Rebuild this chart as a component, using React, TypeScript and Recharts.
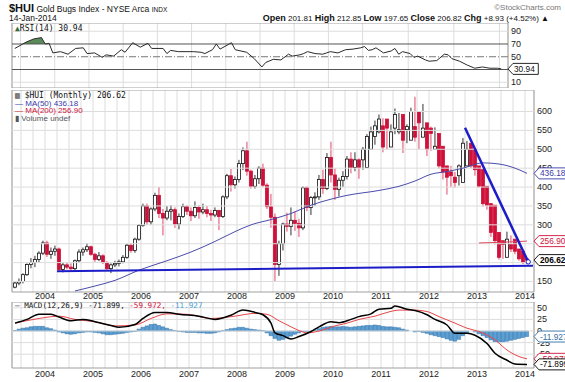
import React from "react";
import {
  Area,
  Bar,
  CartesianGrid,
  ComposedChart,
  Line,
  ReferenceArea,
  ReferenceDot,
  ReferenceLine,
  XAxis,
  YAxis,
} from "recharts";

const FONT = '"Liberation Sans", Arial, Helvetica, sans-serif';
const MONO = '"DejaVu Sans Mono", "Liberation Mono", monospace';

// monthly candles, index 0 = May 2003 ... 128 = Jan 2014
const opens = [
  135, 146, 150, 168, 195, 200, 208, 225, 252, 222, 230, 236, 182, 194, 188, 184, 205, 228, 234, 242,
  222, 208, 218, 200, 184, 194, 198, 202, 214, 246, 232, 262, 298, 350, 308, 342, 378, 330, 318, 336,
  340, 302, 322, 348, 336, 324, 346, 334, 340, 330, 326, 338, 322, 374, 430, 406, 420, 462, 496, 442,
  402, 422, 450, 405, 348, 320, 195, 250, 302, 296, 312, 304, 292, 398, 346, 372, 374, 420, 396, 478,
  432, 394, 418, 428, 474, 452, 472, 472, 452, 500, 534, 546, 562, 580, 506, 556, 546, 592, 552, 524,
  560, 600, 532, 570, 556, 500, 542, 508, 456, 440, 426, 430, 412, 456, 516, 500, 456, 446, 402, 356,
  352, 280, 258, 214, 248, 262, 236, 230, 210, 201.81,
];
const highs = [
  150, 158, 172, 198, 212, 218, 230, 258, 258, 240, 245, 240, 200, 200, 198, 208, 235, 240, 252, 245,
  226, 228, 222, 204, 198, 205, 208, 220, 250, 252, 266, 302, 356, 356, 346, 385, 400, 342, 350, 352,
  346, 330, 356, 352, 346, 362, 352, 356, 350, 340, 346, 340, 378, 435, 448, 428, 472, 505, 520, 446,
  432, 455, 462, 410, 382, 330, 258, 306, 332, 346, 336, 316, 402, 402, 376, 386, 432, 446, 490, 520,
  450, 425, 442, 482, 492, 492, 476, 506, 540, 560, 576, 592, 582, 560, 566, 608, 596, 560, 566, 610,
  639, 590, 620, 566, 560, 558, 512, 462, 450, 456, 440, 460, 530, 522, 504, 462, 452, 406, 368, 358,
  290, 262, 258, 282, 272, 250, 234, 214, 212.85,
];
const lows = [
  132, 140, 145, 165, 185, 188, 200, 220, 215, 210, 218, 178, 174, 182, 180, 180, 200, 218, 228, 218,
  202, 204, 196, 178, 172, 188, 190, 198, 210, 226, 226, 258, 295, 300, 300, 336, 318, 272, 312, 312,
  292, 288, 318, 326, 310, 318, 316, 328, 320, 310, 320, 286, 318, 368, 388, 396, 412, 445, 430, 396,
  396, 408, 400, 342, 292, 150, 165, 232, 282, 272, 284, 268, 286, 336, 326, 350, 366, 382, 392, 412,
  366, 375, 400, 420, 436, 442, 422, 446, 496, 506, 512, 542, 492, 500, 520, 540, 540, 490, 516, 540,
  520, 500, 540, 482, 496, 500, 448, 420, 380, 400, 398, 404, 452, 490, 450, 430, 398, 348, 340, 268,
  248, 208, 210, 240, 228, 222, 205, 196, 197.65,
];
const closes = [
  146, 150, 168, 195, 200, 208, 225, 252, 222, 230, 236, 182, 194, 188, 184, 205, 228, 234, 242, 222,
  208, 218, 200, 184, 194, 198, 202, 214, 246, 232, 262, 298, 350, 308, 342, 378, 330, 318, 336, 340,
  302, 322, 348, 336, 324, 346, 334, 340, 330, 326, 338, 322, 374, 430, 406, 420, 462, 496, 442, 402,
  422, 450, 405, 348, 320, 195, 250, 302, 296, 312, 304, 292, 398, 346, 372, 374, 420, 396, 478, 432,
  394, 418, 428, 474, 452, 472, 452, 500, 534, 546, 562, 580, 506, 556, 546, 592, 552, 524, 560, 600,
  532, 570, 556, 500, 542, 508, 456, 440, 426, 430, 412, 456, 516, 500, 456, 446, 402, 356, 352, 280,
  258, 214, 248, 262, 236, 230, 210, 200, 206.62,
];

// [month index, value]
const ma50Pts = [
  [15, 125], [20, 138], [25, 153], [31, 180], [38, 205], [44, 228], [50, 256], [55, 282], [59, 300],
  [64, 314], [69, 330], [74, 352], [79, 368], [83, 378], [91, 391], [96, 402], [100, 416], [104, 434],
  [108, 441], [112, 450], [117, 464], [121, 461], [125, 450], [128, 436.18],
];
const ma200Pts = [[116, 252], [122, 254], [128, 256.9]];
const supportPts = [[10.5, 177], [129.5, 192]];
const downtrendPts = [[112.5, 557], [128.3, 202]];

const rsiPts = [
  [0, 63], [3, 73], [5, 78], [7, 80], [8, 70], [9, 71], [10, 56], [12, 58], [14, 54], [16, 63], [18, 64],
  [19, 55], [21, 56], [23, 49], [24, 53], [26, 51], [28, 61], [29, 57], [31, 72], [33, 65], [35, 71],
  [36, 63], [39, 63], [40, 55], [41, 60], [43, 58], [47, 58], [49, 57], [50, 55], [52, 61], [53, 70],
  [54, 62], [57, 72], [58, 61], [61, 57], [63, 47], [65, 34], [66, 41], [68, 46], [70, 45], [72, 54],
  [73, 51], [75, 53], [76, 55], [77, 58], [79, 55], [81, 54], [82, 56], [83, 58], [85, 56], [87, 61],
  [89, 62], [91, 64], [92, 66], [93, 60], [94, 61], [95, 64], [97, 56], [99, 59], [100, 63], [101, 54],
  [102, 58], [104, 55], [105, 49], [106, 51], [108, 45], [109, 43], [111, 44], [113, 54], [114, 53],
  [115, 47], [117, 43], [119, 37], [121, 32], [123, 34], [124, 33], [125, 32], [127, 32], [128, 30.94],
];
const rsiHotPts = [[2, 70], [3, 73], [5, 78], [7, 80], [8, 70]];

const macdPts = [
  [0, 17], [3, 25], [6, 36], [9, 36], [11, 30], [14, 22], [17, 25], [20, 20], [24, 12], [26, 8], [30, 14],
  [32, 27], [35, 40], [38, 40], [41, 36], [46, 32], [50, 25], [54, 34], [57, 45], [60, 40], [62, 35],
  [64, 17], [65, -4], [67, -10], [69, -17], [71, -12], [74, -1], [76, 9], [79, 20], [81, 18], [84, 25],
  [86, 31], [89, 37], [91, 47], [94, 49], [95, 54], [98, 47], [100, 44], [103, 35], [105, 25], [108, 13],
  [110, -5], [113, -5], [115, -9], [118, -27], [120, -48], [123, -63], [125, -71], [128, -71.899],
];
const signalPts = [
  [0, 17], [6, 27], [11, 32], [15, 25], [20, 20], [25, 11], [30, 13], [34, 27], [38, 37], [43, 36],
  [49, 27], [55, 32], [60, 38], [63, 36], [66, 22], [69, 9], [71, 1], [73, -4], [76, 0], [80, 11],
  [83, 17], [86, 25], [90, 32], [93, 40], [96, 45], [100, 45], [103, 42], [106, 31], [110, 17], [113, 6],
  [116, -1], [120, -19], [123, -41], [126, -55], [128, -59.972],
];
const histValues = [
  1, 4, 6, 7, 9, 10, 10, 10, 7, 5, 2,
  -2, -4, -6, -7, -6, -4, -3, -2, -2, -3, -4, -6, -8, -8, -7, -6, -5, -3, -2, -1,
  4, 8, 11, 14, 15, 12, 9, 6, 3, 1,
  -1, -2, -3, -3, -3, -4, -4, -5, -5, -4, -2,
  1, 3, 5, 6, 8, 8, 6, 4, 3, 2, 1,
  -4, -10, -16, -20, -18, -15, -11, -7, -4, -1, -1, 0,
  2, 5, 8, 9, 10, 9, 9, 10, 9, 8, 9, 10, 11, 12, 12, 13, 12, 10, 9, 9, 8, 7, 4, 2, 0,
  -2, -1, -3, -5, -8, -10, -12, -14, -17, -20, -22, -18, -10, -4, 0, -2,
  -6, -10, -14, -19, -23, -25, -24, -22, -20, -18, -16, -14, -11.927,
];

const years = ["2004", "2005", "2006", "2007", "2008", "2009", "2010", "2011", "2012", "2013", "2014"];
const priceTicks = [150, 200, 250, 300, 350, 400, 450, 500, 550, 600];
const priceHidden = [200, 250]; // labels sitting under the value tags
const rsiTicks = [10, 50, 70, 90];
const rsiGrid = [10, 90];
const macdTicks = [-50, -25, 0, 25, 50];

// value tags on the right axis
const priceTags = [
  { value: 436.18, text: "436.18", color: "#3a3aa8", bold: false },
  { value: 256.9, text: "256.90", color: "#d0103a", bold: false },
  { value: 206.62, text: "206.62", color: "#000000", bold: true },
];
const rsiTags = [{ value: 30.94, text: "30.94", color: "#111111", bold: false }];
const macdTags = [
  { value: -11.927, text: "-11.927", color: "#2f6ea6", bold: false },
  { value: -59.972, text: "-59.972", color: "#d0103a", bold: false },
  { value: -71.899, text: "-71.899", color: "#000000", bold: false },
];

const X_DOMAIN: [number, number] = [-0.75, 129.75];
const FIRST_JAN = 7.5; // boundary before the Jan 2004 candle
const quarterTicks = Array.from({ length: 43 }, (_, k) => 1.5 + 3 * k);

const PRICE_DOMAIN: [number, number] = [122.2, 656.9];
const RSI_DOMAIN: [number, number] = [1, 102.9];
const MACD_DOMAIN: [number, number] = [-79.7, 62.5];

const UP = "#111111";
const DOWN = "#d0103a";
const GRID = "#dddddd";
const BORDER = "#a0a0a0";

const toRows = (pts: number[][]) => pts.map(([i, v]) => ({ i, v }));

const candles = opens.map((o, i) => ({
  i,
  o,
  h: highs[i],
  l: lows[i],
  c: closes[i],
  range: [lows[i], highs[i]],
}));
const hist = histValues.map((v, i) => ({ i, v }));

function yearLabel(v: number) {
  const k = (v - FIRST_JAN) / 12;
  const r = Math.round(k);
  return Math.abs(k - r) < 1e-6 && r >= 0 && r < years.length ? years[r] : "";
}

function Candle(props: any) {
  const { x, y, width, height, payload } = props;
  if (x == null || !payload) return null;
  const top = Math.min(y, y + height);
  const span = Math.abs(height);
  const { o, h, l, c } = payload;
  const k = h > l ? span / (h - l) : 0;
  const yo = top + (h - o) * k;
  const yc = top + (h - c) * k;
  const cx = x + width / 2;
  const up = c >= o;
  const bTop = Math.min(yo, yc);
  const bH = Math.max(1, Math.abs(yc - yo));
  return (
    <g>
      <line x1={cx} x2={cx} y1={top} y2={top + span} stroke={up ? "#333" : "#e0486a"} strokeWidth={1} />
      <rect
        x={cx - 1.5}
        y={bTop}
        width={3}
        height={bH}
        fill={up ? "#ffffff" : DOWN}
        stroke={up ? UP : DOWN}
        strokeWidth={0.8}
      />
    </g>
  );
}

function textWidth(s: string) {
  let w = 0;
  for (const ch of s) w += ch === "." ? 2.3 : ch === "-" ? 2.8 : 4.5;
  return w;
}

// right-axis tick: plain number, or a pointed value tag
function AxisTick(props: any) {
  const { x, y, payload, tags, hidden } = props;
  const v = payload?.value;
  const tag = (tags || []).find((t: any) => t.value === v);
  if (tag) {
    const x0 = x - 3;
    const w = textWidth(tag.text) + 10;
    return (
      <g>
        <path
          d={`M${x0},${y} L${x0 + 5},${y - 5.5} L${x0 + w},${y - 5.5} L${x0 + w},${y + 5.5} L${x0 + 5},${y + 5.5} Z`}
          fill="#ffffff"
          stroke={tag.color}
          strokeWidth={0.9}
        />
        <text
          x={x0 + 6}
          y={y + 3}
          fontSize={8.3}
          fontFamily={FONT}
          fontWeight={tag.bold ? "bold" : "normal"}
          fill={tag.color}
        >
          {tag.text}
        </text>
      </g>
    );
  }
  if ((hidden || []).includes(v)) return <g />;
  return (
    <text x={x} y={y + 3} fontSize={9} fontFamily={FONT} fill="#222" textAnchor="start">
      {v}
    </text>
  );
}

function Frame({ domain }: { domain: [number, number] }) {
  return (
    <ReferenceArea
      x1={X_DOMAIN[0]}
      x2={X_DOMAIN[1]}
      y1={domain[0]}
      y2={domain[1]}
      fill="none"
      stroke={BORDER}
      strokeWidth={1}
      ifOverflow="visible"
    />
  );
}

function RightAxis({
  domain,
  ticks,
  tags,
  hidden = [],
}: {
  domain: [number, number];
  ticks: number[];
  tags: any[];
  hidden?: number[];
}) {
  return (
    <YAxis
      orientation="right"
      width={31}
      type="number"
      domain={domain}
      ticks={[...ticks, ...tags.map((t) => t.value)]}
      tick={<AxisTick tags={tags} hidden={hidden} />}
      axisLine={false}
      tickLine={false}
      tickSize={0}
      tickMargin={3}
      interval={0}
      allowDataOverflow
    />
  );
}

const tickStyle = { fontSize: 9, fill: "#222", fontFamily: FONT };

export default function App() {
  return (
    <div
      style={{
        position: "absolute",
        left: 0,
        top: 0,
        width: 565,
        height: 382,
        background: "#fff",
        overflow: "hidden",
        fontFamily: FONT,
        color: "#111",
      }}
    >
      {/* header */}
      <div style={{ position: "absolute", left: 9, top: 0, whiteSpace: "nowrap", lineHeight: "13px" }}>
        <span style={{ fontSize: 11, fontWeight: "bold" }}>$HUI</span>
        <span style={{ fontSize: 8.5 }}> Gold Bugs Index - NYSE Arca </span>
        <span style={{ fontSize: 6.5 }}>INDX</span>
      </div>
      <div style={{ position: "absolute", left: 9, top: 13, fontSize: 8.5, whiteSpace: "nowrap", lineHeight: "10px" }}>
        14-Jan-2014
      </div>
      <div style={{ position: "absolute", right: 4, top: 3, fontSize: 8, color: "#777", whiteSpace: "nowrap" }}>
        ©StockCharts.com
      </div>
      <div
        style={{ position: "absolute", right: 16, top: 13, fontSize: 8, whiteSpace: "nowrap", lineHeight: "10px" }}
      >
        <b style={{ fontSize: 9 }}>Open</b> 201.81 <b style={{ fontSize: 9 }}>High</b> 212.85{" "}
        <b style={{ fontSize: 9 }}>Low</b> 197.65 <b style={{ fontSize: 9 }}>Close</b> 206.82{" "}
        <b style={{ fontSize: 9 }}>Chg</b> +8.93 (+4.52%) ▲
      </div>

      {/* RSI panel */}
      <div style={{ position: "absolute", left: 0, top: 23 }}>
        <ComposedChart width={539} height={65} margin={{ top: 0, right: 0, bottom: 0, left: 12 }}>
          <CartesianGrid stroke={GRID} strokeWidth={1} horizontal={false} />
          <XAxis dataKey="i" type="number" domain={X_DOMAIN} ticks={quarterTicks} hide allowDataOverflow />
          {RightAxis({ domain: RSI_DOMAIN, ticks: rsiTicks, tags: rsiTags })}
          {rsiGrid.map((g) => (
            <ReferenceLine key={g} y={g} stroke={GRID} strokeWidth={1} />
          ))}
          <Area
            data={toRows(rsiHotPts)}
            dataKey="v"
            baseValue={70}
            type="linear"
            stroke="none"
            fill="#5a8a5a"
            fillOpacity={1}
            isAnimationActive={false}
          />
          <ReferenceLine y={70} stroke="#555" strokeWidth={1} />
          <ReferenceLine y={50} stroke="#777" strokeWidth={1} strokeDasharray="7 2 1 2" />
          <ReferenceLine y={30} stroke="#555" strokeWidth={1} />
          <Line
            data={toRows(rsiPts)}
            dataKey="v"
            type="linear"
            stroke="#2a2a2a"
            strokeWidth={1}
            dot={false}
            isAnimationActive={false}
          />
          <Frame domain={RSI_DOMAIN} />
        </ComposedChart>
      </div>
      <div style={{ position: "absolute", left: 15, top: 24, fontSize: 8, fontFamily: MONO, whiteSpace: "nowrap" }}>
        <span style={{ color: "#3a6a3a" }}>▲</span>RSI(14) 30.94
      </div>

      {/* price panel */}
      <div style={{ position: "absolute", left: 0, top: 90 }}>
        <ComposedChart
          width={565}
          height={214}
          data={candles}
          margin={{ top: 0, right: 0, bottom: 0, left: 12 }}
        >
          <CartesianGrid stroke={GRID} strokeWidth={1} horizontal={false} />
          <XAxis
            dataKey="i"
            type="number"
            domain={X_DOMAIN}
            ticks={quarterTicks}
            tickFormatter={yearLabel}
            tick={tickStyle}
            axisLine={false}
            tickLine={false}
            tickSize={0}
            tickMargin={1}
            height={12}
            interval={0}
            allowDataOverflow
          />
          {RightAxis({ domain: PRICE_DOMAIN, ticks: priceTicks, tags: priceTags, hidden: priceHidden })}
          {priceTicks.map((g) => (
            <ReferenceLine key={g} y={g} stroke={GRID} strokeWidth={1} />
          ))}
          <Bar dataKey="range" barSize={3} shape={<Candle />} isAnimationActive={false} />
          <Line
            data={toRows(ma50Pts)}
            dataKey="v"
            type="monotone"
            stroke="#4b4bab"
            strokeWidth={1}
            dot={false}
            isAnimationActive={false}
          />
          <Line
            data={toRows(ma200Pts)}
            dataKey="v"
            type="linear"
            stroke="#e04a5a"
            strokeWidth={1}
            dot={false}
            isAnimationActive={false}
          />
          <Line
            data={toRows(supportPts)}
            dataKey="v"
            type="linear"
            stroke="#1c1cc8"
            strokeWidth={2}
            dot={false}
            isAnimationActive={false}
          />
          <Line
            data={toRows(downtrendPts)}
            dataKey="v"
            type="linear"
            stroke="#1c1cc8"
            strokeWidth={2.5}
            dot={false}
            isAnimationActive={false}
          />
          <ReferenceDot x={128.3} y={202} r={2.2} fill="#fff" stroke="#1c1cc8" strokeWidth={1} />
          <Frame domain={PRICE_DOMAIN} />
        </ComposedChart>
      </div>
      <div style={{ position: "absolute", left: 15, top: 92, fontSize: 8, lineHeight: "7.6px", whiteSpace: "nowrap" }}>
        <div style={{ fontFamily: MONO }}>▥ $HUI (Monthly) 206.62</div>
        <div style={{ color: "#3a3aa8" }}>— MA(50) 436.18</div>
        <div style={{ color: "#d0103a" }}>— MA(200) 256.90</div>
        <div style={{ color: "#555" }}>▮ Volume undef</div>
      </div>

      {/* MACD panel */}
      <div style={{ position: "absolute", left: 0, top: 302 }}>
        <ComposedChart width={565} height={80} data={hist} margin={{ top: 0, right: 0, bottom: 0, left: 12 }}>
          <CartesianGrid stroke={GRID} strokeWidth={1} horizontal={false} />
          <XAxis
            dataKey="i"
            type="number"
            domain={X_DOMAIN}
            ticks={quarterTicks}
            tickFormatter={yearLabel}
            tick={tickStyle}
            axisLine={false}
            tickLine={false}
            tickSize={0}
            tickMargin={3}
            height={14}
            interval={0}
            allowDataOverflow
          />
          {RightAxis({ domain: MACD_DOMAIN, ticks: macdTicks, tags: macdTags })}
          {macdTicks.map((g) => (
            <ReferenceLine key={g} y={g} stroke={GRID} strokeWidth={1} />
          ))}
          <Bar dataKey="v" barSize={4} fill="#5b9fd4" stroke="#2f6ea6" strokeWidth={0.5} isAnimationActive={false} />
          <Line
            data={toRows(signalPts)}
            dataKey="v"
            type="monotone"
            stroke="#e8474c"
            strokeWidth={1}
            dot={false}
            isAnimationActive={false}
          />
          <Line
            data={toRows(macdPts)}
            dataKey="v"
            type="monotone"
            stroke="#000"
            strokeWidth={1.5}
            dot={false}
            isAnimationActive={false}
          />
          <Frame domain={MACD_DOMAIN} />
        </ComposedChart>
      </div>
      <div style={{ position: "absolute", left: 15, top: 301, fontSize: 7.6, fontFamily: MONO, whiteSpace: "nowrap" }}>
        <span>— MACD(12,26,9) -71.899, </span>
        <span style={{ color: "#d0103a" }}>-59.972, </span>
        <span style={{ color: "#4a9fd8" }}>-11.927</span>
      </div>
    </div>
  );
}
